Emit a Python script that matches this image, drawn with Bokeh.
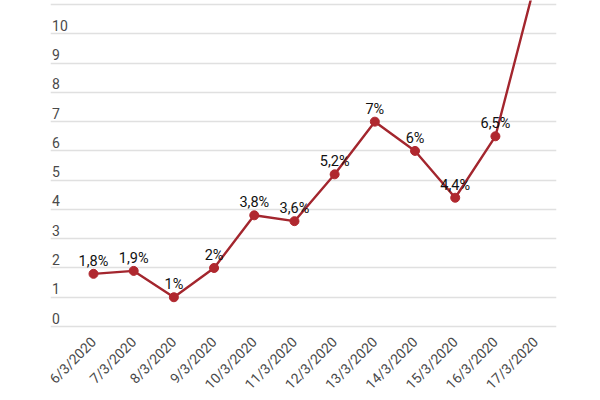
from bokeh.plotting import figure
from bokeh.models import ColumnDataSource, Range1d, FixedTicker
from bokeh.core.properties import value
from bokeh.embed import file_html
from bokeh.resources import INLINE
import math

# data
dates = ['6/3/2020', '7/3/2020', '8/3/2020', '9/3/2020', '10/3/2020', '11/3/2020',
         '12/3/2020', '13/3/2020', '14/3/2020', '15/3/2020', '16/3/2020', '17/3/2020']
rates = [1.8, 1.9, 1.0, 2.0, 3.8, 3.6, 5.2, 7.0, 6.0, 4.4, 6.5, 11.8]
rate_labels = ['1,8%', '1,9%', '1%', '2%', '3,8%', '3,6%', '5,2%', '7%', '6%', '4,4%', '6,5%', '11,8%']
y_ticks = [0, 1, 2, 3, 4, 5, 6, 7, 8, 9, 10, 11]
y_tick_labels = ['0', '1', '2', '3', '4', '5', '6', '7', '8', '9', '10']

line_color = '#a3262e'
dot_color = '#b0282f'
grid_color = '#e0e0e0'
font = 'Roboto'

idx = list(range(len(dates)))
source = ColumnDataSource(data=dict(x=idx, y=rates, label=rate_labels))

p = figure(width=600, height=400, output_backend="svg", toolbar_location=None,
           x_range=Range1d(-1.07, 11.52), y_range=Range1d(-0.068, 11.14),
           min_border_left=50, min_border_right=44, min_border_top=0,
           min_border_bottom=70)
p.outline_line_color = None
p.background_fill_color = 'white'
p.border_fill_color = 'white'

# grid
p.xgrid.visible = False
p.ygrid.ticker = FixedTicker(ticks=y_ticks)
p.ygrid.grid_line_color = grid_color
p.ygrid.grid_line_width = 1.6

# x axis with rotated date labels
p.xaxis.ticker = FixedTicker(ticks=idx)
p.xaxis.major_label_overrides = {i: d for i, d in zip(idx, dates)}
p.xaxis.major_label_orientation = math.pi / 4
p.xaxis.axis_line_color = None
p.xaxis.major_tick_line_color = None
p.xaxis.minor_tick_line_color = None
p.xaxis.major_label_text_font = font
p.xaxis.major_label_text_font_size = '14px'
p.xaxis.major_label_text_color = '#4a4a4a'
p.xaxis.major_label_standoff = 5

# y axis labels sit inside the plot, above each grid line
p.yaxis.visible = False
p.text(x=[-1.03] * len(y_tick_labels), y=y_ticks[:len(y_tick_labels)], text=y_tick_labels,
       text_font=value(font), text_font_size='14px', text_color='#4a4a4a',
       text_align='left', text_baseline='bottom', y_offset=-3)

p.line('x', 'y', source=source, line_color=line_color, line_width=2.4)
p.scatter('x', 'y', source=source, size=9, fill_color=dot_color, line_color=dot_color)
p.text('x', 'y', text='label', source=source, text_font=value(font),
       text_font_size='14.5px', text_color='#111111',
       text_align='center', text_baseline='bottom', y_offset=-4)

open("out.html", "w").write(file_html(p, INLINE))
